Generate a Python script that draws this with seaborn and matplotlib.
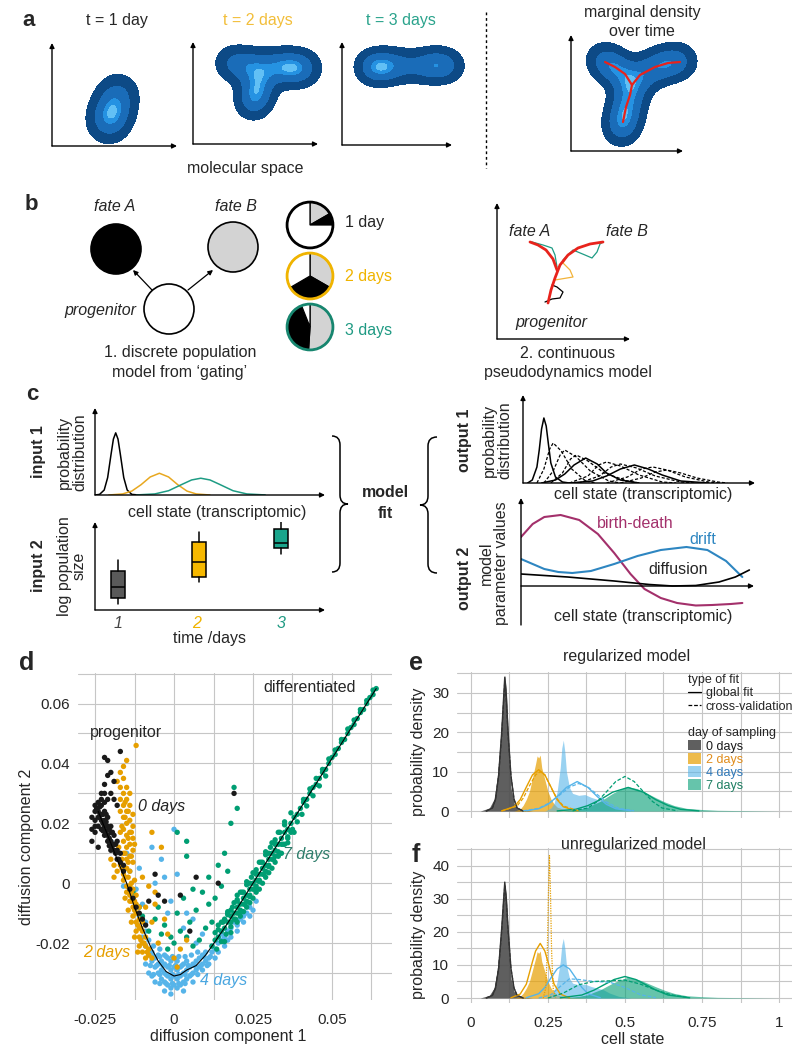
import matplotlib
matplotlib.use("Agg")
import matplotlib.pyplot as plt
import numpy as np
import seaborn as sns
import pandas as pd
from matplotlib.patches import Circle, Patch, PathPatch
from matplotlib.path import Path
from matplotlib.lines import Line2D

W, H = 801, 1050

# colours
C_BLACK = "#1a1a1a"
C_ORANGE = "#E69F00"
C_BLUE = "#56B4E9"
C_GREEN = "#009E73"
C_TEAL = "#1e9c84"
C_MAGENTA = "#a3306b"
C_DRIFT = "#2e86c1"
DENSITY_BLUES = ["#0d4a86", "#1a6cb8", "#2592e2", "#62c0f5"]
BLOB_LEVELS = [0.14, 0.45, 0.82, 0.95, 1.01]   # fractions of the peak density

# ---------------- panel a: anchor points of the schematic densities (local pixel units)
a1_x = [56, 59, 62, 65, 67]
a1_y = [22, 31, 40, 49, 55]
a1_w = [0.9, 1.0, 0.65, 0.55, 0.5]

a2_x = [38, 50, 62, 76, 88, 100, 112, 66, 63, 60]
a2_y = [81, 79, 77, 77, 77, 76, 76, 62, 50, 41]
a2_w = [0.6, 0.6, 0.65, 0.6, 0.7, 1.0, 0.7, 0.75, 0.8, 0.7]

a3_x = [28, 38, 48, 60, 70, 84, 96, 108]
a3_y = [78, 78, 79, 79, 79, 79, 80, 79]
a3_w = [0.75, 1.0, 0.75, 0.45, 0.45, 0.7, 0.95, 0.6]

a4_x = [32, 42, 52, 61, 58, 55, 52, 50, 72, 85, 98, 110]
a4_y = [91, 85, 77, 66, 54, 42, 30, 21, 77, 84, 88, 90]
a4_w = [0.7, 0.75, 0.7, 0.75, 0.7, 0.8, 0.8, 0.6, 0.7, 0.75, 0.8, 0.65]

a4_stem_x = [52, 55, 59, 61, 69, 84, 97, 109]
a4_stem_y = [29, 44, 56, 66, 76, 84, 88, 89]
a4_left_x = [61, 54, 44, 34]
a4_left_y = [66, 77, 84, 89]

# ---------------- panel b
fate_x = [116, 233, 169]
fate_y = [249, 247, 309]
fate_fill = ["black", "#d3d3d3", "white"]
pie_y = [225, 276, 327]
pie_1day = [0.167, 0.083, 0.75]      # grey, black, white (clockwise from top)
pie_2days = [0.333, 0.333, 0.334]
pie_3days = [0.51, 0.43, 0.06]
pie_edges = ["black", "#f0b400", "#17866f"]

# pseudodynamics sketch (local units)
b_right_x = [51, 54, 58, 63, 71, 81, 93, 106]
b_right_y = [36, 49, 61, 74, 84, 91, 95, 97]
b_left_x = [60, 56, 49, 41, 33]
b_left_y = [69, 80, 89, 94, 97]
b_black_x = [48, 55, 63, 66, 60, 55]
b_black_y = [37, 40, 41, 47, 52, 54]
b_orange_x = [58, 70, 76, 73, 66, 71]
b_orange_y = [59, 61, 62, 69, 76, 84]
b_teal1_x = [35, 46, 55, 58, 60]
b_teal1_y = [97, 94, 91, 84, 72]
b_teal2_x = [66, 76, 88, 95, 100, 103, 106]
b_teal2_y = [79, 89, 84, 81, 87, 95, 97]

# ---------------- panel c
in1_black_x = [0.0, 0.02, 0.04, 0.055, 0.07, 0.08, 0.09, 0.10, 0.11, 0.125, 0.14, 0.16, 0.19]
in1_black_y = [0.0, 0.01, 0.08, 0.28, 0.66, 0.9, 1.0, 0.9, 0.66, 0.28, 0.08, 0.01, 0.0]
in1_orange_x = [0.06, 0.12, 0.16, 0.2, 0.24, 0.28, 0.32, 0.36, 0.4, 0.44, 0.5]
in1_orange_y = [0.0, 0.017, 0.063, 0.165, 0.29, 0.35, 0.29, 0.165, 0.063, 0.017, 0.0]
in1_teal_x = [0.18, 0.26, 0.32, 0.38, 0.42, 0.46, 0.5, 0.54, 0.6, 0.66, 0.74]
in1_teal_y = [0.001, 0.017, 0.069, 0.174, 0.242, 0.27, 0.242, 0.174, 0.069, 0.017, 0.001]

days_c = [1, 2, 3]
box_q1 = [1.2, 3.3, 6.2]
box_med = [2.3, 4.8, 6.7]
box_q3 = [3.9, 6.8, 8.1]
box_lo = [0.6, 2.8, 5.6]
box_hi = [5.0, 7.8, 9.1]
box_colors = ["#5a5a5a", "#f6b800", "#1aa58c"]
day_tick_colors = ["#444444", "#f0b400", "#1f9a83"]

out1_solid = [
    ([0.02, 0.04, 0.06, 0.07, 0.08, 0.09, 0.1, 0.11, 0.12, 0.14, 0.17, 0.2],
     [0, 3, 16, 33, 54, 65, 57, 38, 20, 6, 1, 0]),
    ([0.08, 0.14, 0.18, 0.22, 0.27, 0.32, 0.36, 0.42, 0.5],
     [0, 3, 9, 18, 25, 19, 10, 3, 0]),
    ([0.2, 0.3, 0.36, 0.42, 0.48, 0.54, 0.6, 0.68, 0.8],
     [0, 2, 7, 14, 18, 14, 8, 2, 0]),
]
out1_dashed = [
    ([0.06, 0.09, 0.115, 0.13, 0.165, 0.21, 0.27, 0.31], [0, 14, 34, 40, 32, 14, 2, 0]),
    ([0.09, 0.13, 0.16, 0.18, 0.23, 0.29, 0.37, 0.42], [0, 12, 28, 33, 26, 12, 2, 0]),
    ([0.12, 0.17, 0.205, 0.23, 0.28, 0.35, 0.45, 0.5], [0, 10, 24, 28, 22, 10, 2, 0]),
    ([0.2, 0.28, 0.325, 0.36, 0.42, 0.5, 0.6, 0.66], [0, 7, 18, 21, 17, 8, 1, 0]),
    ([0.24, 0.33, 0.38, 0.42, 0.49, 0.57, 0.68, 0.74], [0, 7, 16, 19, 15, 7, 1, 0]),
    ([0.36, 0.45, 0.51, 0.56, 0.62, 0.7, 0.8, 0.85], [0, 6, 14, 16, 13, 6, 1, 0]),
    ([0.42, 0.51, 0.57, 0.62, 0.68, 0.75, 0.84, 0.88], [0, 5, 11, 13, 10, 5, 1, 0]),
]

bd_x = [0, 0.05, 0.1, 0.17, 0.25, 0.33, 0.4, 0.47, 0.53, 0.6, 0.67, 0.75, 0.82, 0.9, 0.95]
bd_y = [4.9, 6.2, 6.9, 7.1, 6.6, 5.2, 3.3, 1.2, -0.3, -1.2, -1.7, -1.95, -1.9, -1.8, -1.7]
drift_x = [0, 0.05, 0.1, 0.16, 0.22, 0.3, 0.4, 0.5, 0.6, 0.71, 0.8, 0.88, 0.95]
drift_y = [2.7, 2.2, 1.7, 1.4, 1.3, 1.5, 2.2, 3.0, 3.6, 3.9, 3.6, 2.5, 0.9]
diff_x = [0, 0.2, 0.4, 0.55, 0.65, 0.75, 0.85, 0.92, 0.98]
diff_y = [1.2, 0.9, 0.5, 0.15, 0.0, 0.05, 0.4, 0.9, 1.6]

# ---------------- panel d (diffusion components, units of 1e-3)
d_day0 = [(-25, 26), (-25, 24), (-25, 21), (-25, 19), (-24, 27), (-24, 24), (-24, 22), (-24, 19),
          (-23, 26), (-23, 23), (-23, 21), (-23, 18), (-22, 24), (-22, 21), (-22, 19), (-22, 16),
          (-21, 22), (-21, 19), (-21, 16), (-21, 14), (-20, 19), (-20, 17), (-20, 14), (-20, 11),
          (-19, 16), (-19, 13), (-19, 11), (-18, 14), (-18, 11), (-18, 8), (-17, 10), (-17, 7),
          (-16, 6), (-16, 4), (-24.5, 25), (-23.5, 22.5), (-22.5, 20), (-21.5, 17.5), (-20.5, 15),
          (-19.5, 12.5), (-18.5, 10), (-17.5, 8), (-22.5, 23), (-21.5, 20.5), (-20.5, 18),
          (-23.5, 25.5), (-21.5, 23), (-19.5, 17), (-18.5, 13), (-22.5, 17.5), (-20.5, 12.5),
          (-26, 22), (-26, 18), (-25, 17), (-26, 14), (-24, 12), (-23, 28), (-22, 27),
          (-22, 42), (-21, 41), (-17, 44), (-21, 36), (-20, 37), (-22, 33), (-19, 34), (-20, 30),
          (-22, 30), (-21, 28), (-19, 28), (-23, 30), (-18, 26), (19, 30), (-6, 3), (7, 2),
          (2, -4), (-5, -4), (-3, -6), (14, 0), (-12, -8), (-13, -5), (-11, -10), (-14, -2),
          (-9, -14), (-10, -12), (5, -16), (-8, -6)]
d_day2 = [(-12, 46), (-15, 41), (-16, 39), (-17, 37), (-16, 35), (-18, 34), (-17, 32), (-15, 32),
          (-16, 30), (-14, 30), (-17, 28), (-15, 28), (-16, 26), (-14, 26), (-17, 24), (-15, 24),
          (-13, 23), (-16, 22), (-14, 21), (-15, 20), (-13, 19), (-16, 18), (-14, 17), (-15, 16),
          (-13, 15), (-17, 17), (-16, 14), (-14, 13), (-15, 12), (-13, 11), (-16, 10), (-14, 9),
          (-15, 8), (-13, 7), (-17, 6), (-15, 5), (-16, 3), (-14, 4), (-18, 4), (-19, 6), (-20, 8),
          (-19, 2), (-16, 1), (-15, -1), (-14, -1), (-15, -3), (-13, -2), (-14, -4), (-13, -5),
          (-12, -4), (-14, -6), (-13, -8), (-12, -7), (-11, -8), (-12, -10), (-13, -11), (-11, -12),
          (-12, -13), (-10, -13), (-11, -15), (-12, -16), (-10, -16), (-11, -18), (-9, -18),
          (-10, -20), (-11, -21), (-9, -21), (-8, -22), (-10, -23), (-8, -24), (-9, -25), (-7, -25),
          (-14.5, 2), (-13.5, -3), (-12.5, -9), (-11.5, -14), (-10.5, -19), (-15.5, 10), (-14.5, 15),
          (-15.5, 22), (-13.5, 0), (-16.5, 5), (-15.5, 2), (-14.5, -1), (-13.5, -6), (-12.5, -6),
          (-11.5, -10), (-10.5, -15), (-9.5, -20), (-8.5, -23), (-17.5, 12), (-16.5, 19),
          (-15.5, 27), (-14.5, 24), (-13.5, 17), (-12.5, 13), (-14.5, 7), (-13.5, 9), (-12.5, 1),
          (-16.5, 8), (-15.5, -5), (-14.5, -9), (-13.5, -13), (-12.5, -18), (-11.5, -23),
          (-7, 17), (-4, 12), (-8, -1), (-6, -7), (-3, -12), (-5, -20),
          (0, -25), (2, -22), (-2, -17), (-10, 2), (-6, -3), (4, -19), (-9, -8), (-7, -13), (1, -28)]
d_day4 = [(-8, -24), (-7, -26), (-7, -23), (-6, -28), (-6, -25), (-5, -30), (-5, -27), (-5, -24),
          (-4, -32), (-4, -29), (-4, -26), (-3, -33), (-3, -30), (-3, -27), (-3, -24), (-2, -34),
          (-2, -31), (-2, -28), (-2, -25), (-1, -35), (-1, -32), (-1, -29), (-1, -26), (0, -34),
          (0, -31), (0, -28), (0, -25), (1, -35), (1, -32), (1, -29), (1, -26), (2, -34), (2, -31),
          (2, -28), (3, -33), (3, -30), (3, -27), (4, -32), (4, -29), (4, -26), (5, -31), (5, -28),
          (6, -30), (6, -27), (7, -29), (7, -26), (8, -28), (8, -25), (9, -27), (9, -24), (10, -26),
          (10, -23), (11, -25), (12, -23), (12, -21), (13, -22), (14, -20), (15, -19), (15, -17),
          (16, -18), (17, -16), (18, -15), (19, -13), (20, -14), (21, -12), (22, -11), (23, -10),
          (24, -8), (25, -9), (26, -6), (-9, -21), (-8, -19), (-10, -18),
          (11, -27), (13, -25), (14, -23), (16, -21), (17, -19), (18, -18), (20, -16), (22, -13),
          (24, -11), (9, -29), (6, -33), (3, -36), (-3, -36), (-6, -33), (-8, -30), (-9, -27),
          (-7, -31), (-1, -37), (-6.5, -21), (-4.5, -22), (5.5, -24), (7.5, -23),
          (-4.5, -33.5), (-2.5, -33.5), (-0.5, -33.5), (1.5, -33.5), (3.5, -33.5),
          (-6.5, -30.5), (-4.5, -30.5), (-2.5, -30.5), (-0.5, -30.5), (1.5, -30.5), (3.5, -30.5),
          (5.5, -30.5), (7.5, -30.5), (-7.5, -27.5), (-5.5, -27.5), (-3.5, -27.5), (-1.5, -27.5),
          (0.5, -27.5), (2.5, -27.5), (4.5, -27.5), (6.5, -27.5), (8.5, -27.5), (10.5, -27.5),
          (-6.5, -24.5), (-4.5, -24.5), (-2.5, -24.5), (-0.5, -24.5), (1.5, -24.5), (3.5, -24.5),
          (9.5, -24.5), (11.5, -24.5),
          (-15, 10), (-14, 4), (-12, -2), (-10, -7), (-7, 12), (-4, 8), (-3, 2), (-1, -6), (1, 3),
          (4, -10), (-6, 0), (-2, -10), (7, -20), (9, -17), (-9, -13), (-11, 5), (-16, -1),
          (-13, -6), (-20, 14), (0, 18), (3, -15), (6, -12), (-11, -11), (-9, -16)]
d_day7 = [(12, -21), (13, -19), (14, -18), (15, -16), (16, -15), (17, -13), (18, -11), (18, -13),
          (19, -10), (19, -12), (20, -8), (20, -10), (21, -7), (21, -9), (22, -5), (22, -7), (23, -4),
          (23, -6), (24, -2), (24, -4), (25, 0), (25, -2), (26, 1), (26, -1), (27, 3), (27, 1),
          (28, 5), (28, 3), (29, 6), (29, 4), (30, 8), (30, 6), (31, 10), (31, 8), (32, 11), (32, 9),
          (33, 13), (34, 15), (34, 13), (35, 17), (36, 18), (37, 20), (38, 22), (39, 23), (40, 25),
          (41, 27), (42, 28), (43, 30), (44, 32), (45, 33), (46, 35), (47, 37), (48, 38), (49, 40),
          (50, 42), (51, 43), (52, 45), (53, 47), (54, 48), (55, 50), (56, 52), (57, 53), (58, 55),
          (59, 57), (60, 58), (61, 60), (62, 62), (63, 63), (64, 65), (14, -14), (16, -12), (18, -9),
          (20, -6), (22, -3), (24, 0), (26, 3), (28, 7), (30, 10), (32, 13), (21, -11), (23, -8),
          (25, -5), (27, -2), (29, 2), (31, 5), (33, 9), (35, 13), (36, 15), (37, 17), (20, -4),
          (17, -10), (13.5, -22), (15, -19.5), (16.5, -17), (18, -14.5), (19.5, -12), (21, -9.5),
          (22.5, -7), (24, -4.5), (25.5, -2), (27, 0.5), (28.5, 3), (30, 5.5), (31.5, 8), (33, 10.5),
          (34.5, 13), (36, 15.5), (37.5, 18), (39, 20.5), (40.5, 23), (42, 25.8), (44, 29.2),
          (46, 32.5), (48, 35.8), (14, -15.5), (15.5, -13), (17, -10.5), (18.5, -8), (20, -5.5),
          (21.5, -3), (23, -0.5), (24.5, 2), (26, 4.5), (27.5, 7), (29, 9.5), (30.5, 12), (32, 14.5),
          (33.5, 17), (35, 19.5), (41, 28), (43, 31.5), (45, 35), (47, 38), (49, 41.5), (51, 44.5),
          (53, 48), (55, 51.5), (57, 54.5), (59, 58), (61, 61), (63, 64.5),
          (13, -16.5), (15, -13), (17, -9.5), (19, -6.5), (21, -3), (23, 0.5), (25, 3.5), (27, 7),
          (29, 10.5), (31, 13.5), (33, 17), (35, 20.5), (37, 23.5), (16, -19.5), (18, -16.5),
          (20, -13), (22, -9.5), (24, -6.5), (26, -3), (28, 0), (30, 3.5), (32, 7), (34, 10),
          (36, 13.5), (38, 17),
          (-13, -3), (-11, -8), (-10, -11), (-6, -12), (-4, -17), (-2, -22), (0, -20),
          (2, -16), (4, -18), (6, -21), (8, -19), (10, -15), (12, -13), (-5, -8), (-3, -14), (1, -10),
          (3, -5), (5, -13), (7, -9), (9, -3), (11, -7), (13, -5), (15, -1), (4, 14), (4, 9), (1, 17),
          (14, 6), (16, 10), (18, 20), (20, 25), (19, 32), (17, 4), (11, 2), (-8, -16), (-1, -18),
          (6, -2)]
traj_x = [-24, -21, -18, -15, -12.5, -10, -7.5, -5, -2.5, 0, 2, 4, 7, 10, 13, 17, 21, 25, 35, 45, 55, 64]
traj_y = [24, 16, 8, 0, -8, -15, -21, -26, -29.5, -31, -30.5, -29, -27.5, -24, -19.5, -13.3, -6.7, 0,
          16.7, 33.3, 50, 65]

# ---------------- panels e / f (cell state densities)
obs_days = ["0 days", "2 days", "4 days", "7 days"]
obs_colors = ["#4d4d4d", C_ORANGE, C_BLUE, C_GREEN]
obs_alpha = [0.9, 0.7, 0.6, 0.6]
obs_x = [
    [0.03, 0.06, 0.075, 0.085, 0.095, 0.10, 0.105, 0.11, 0.115, 0.12, 0.125, 0.13, 0.14, 0.15, 0.17, 0.20],
    [0.14, 0.16, 0.17, 0.18, 0.19, 0.20, 0.21, 0.215, 0.22, 0.225, 0.23, 0.24, 0.25, 0.26, 0.27, 0.28, 0.30, 0.33, 0.38],
    [0.24, 0.26, 0.27, 0.28, 0.29, 0.295, 0.30, 0.305, 0.31, 0.32, 0.33, 0.35, 0.37, 0.39, 0.41, 0.43, 0.45, 0.48, 0.52],
    [0.30, 0.35, 0.38, 0.40, 0.42, 0.44, 0.46, 0.48, 0.50, 0.51, 0.52, 0.54, 0.56, 0.58, 0.60, 0.63, 0.66, 0.70, 0.75, 0.80, 0.9, 1.0],
]
obs_y = [
    [0, 0.8, 3, 8, 17, 24, 30, 34.5, 31, 22, 12, 6, 2, 0.8, 0.3, 0],
    [0, 0.5, 1.5, 3, 5, 8.5, 12, 14, 13.5, 14.2, 11, 8, 5, 3, 1.8, 1, 0.5, 0.2, 0],
    [0, 0.8, 2, 5, 11, 16, 18, 15, 10, 6, 4.5, 4, 4.2, 3.5, 3, 2.5, 1.5, 0.5, 0],
    [0, 0.5, 1, 1.8, 2.5, 3.5, 4.5, 5.3, 6, 6.3, 6, 5.7, 5, 4.2, 3.4, 2.3, 1.4, 0.7, 0.4, 0.2, 0.1, 0],
]
line_colors = ["#333333", C_ORANGE, C_BLUE, C_GREEN]
fit0_x = [0.05, 0.07, 0.08, 0.09, 0.10, 0.105, 0.11, 0.115, 0.12, 0.13, 0.14, 0.15, 0.17]
reg_fit = [
    (fit0_x, [0, 0.8, 3, 9, 20, 27, 34, 29, 21, 9, 3, 0.8, 0]),
    ([0.1, 0.14, 0.16, 0.18, 0.2, 0.22, 0.24, 0.26, 0.28, 0.3, 0.34], [0.07, 1.1, 2.9, 6.1, 9.2, 10.5, 9.2, 6.1, 2.9, 1.1, 0.07]),
    ([0.18, 0.22, 0.25, 0.28, 0.31, 0.345, 0.38, 0.41, 0.44, 0.47, 0.52], [0.09, 0.6, 1.7, 3.7, 6.0, 7.5, 6.0, 3.7, 1.7, 0.6, 0.1]),
    ([0.28, 0.34, 0.38, 0.42, 0.46, 0.51, 0.56, 0.6, 0.64, 0.68, 0.74], [0.05, 0.46, 1.4, 2.9, 4.8, 6.0, 4.8, 2.9, 1.4, 0.46, 0.05]),
]
reg_cv = [
    (fit0_x, [0, 0.8, 3, 9, 19, 26, 33, 28, 20, 9, 3, 0.8, 0]),
    ([0.1, 0.15, 0.17, 0.19, 0.21, 0.225, 0.24, 0.26, 0.28, 0.3, 0.35], [0.03, 1.3, 3.3, 6.4, 9.2, 10, 9.2, 6.0, 3.1, 1.3, 0.05]),
    ([0.17, 0.22, 0.26, 0.29, 0.32, 0.35, 0.38, 0.41, 0.44, 0.48, 0.53], [0.08, 0.7, 2.3, 4.2, 6.1, 7.0, 6.1, 4.2, 2.3, 0.7, 0.08]),
    ([0.33, 0.38, 0.41, 0.44, 0.47, 0.5, 0.53, 0.56, 0.59, 0.62, 0.67], [0.07, 0.8, 2.4, 4.9, 7.5, 8.8, 7.5, 4.9, 2.4, 0.8, 0.07]),
]
unreg_fit = [
    (fit0_x, [0, 0.8, 3, 9, 21, 28, 35, 30, 22, 9, 3, 0.8, 0]),
    ([0.13, 0.16, 0.18, 0.2, 0.21, 0.225, 0.24, 0.25, 0.27, 0.29, 0.32], [0.07, 1.2, 4.2, 11.0, 14.2, 16.5, 14.2, 11.0, 4.2, 1.2, 0.05]),
    ([0.18, 0.22, 0.24, 0.26, 0.28, 0.30, 0.32, 0.34, 0.36, 0.38, 0.42], [0.1, 1.3, 3.2, 6.1, 8.8, 10, 8.8, 6.1, 3.2, 1.3, 0.1]),
    ([0.29, 0.36, 0.4, 0.43, 0.465, 0.5, 0.535, 0.57, 0.6, 0.64, 0.71], [0.07, 0.9, 2.4, 3.9, 5.6, 6.5, 5.6, 3.9, 2.4, 0.9, 0.07]),
]
unreg_cv = [
    (fit0_x, [0, 0.8, 3, 9, 20, 27, 34, 29, 21, 9, 3, 0.8, 0]),
    ([0.235, 0.243, 0.248, 0.252, 0.255, 0.258, 0.262, 0.267, 0.275], [0, 3, 14, 33, 43, 33, 14, 3, 0]),
    ([0.22, 0.26, 0.29, 0.32, 0.35, 0.4, 0.45, 0.5, 0.55, 0.6], [0, 1, 3.5, 5.8, 5.6, 5.0, 4.8, 3.2, 1, 0.1]),
    ([0.25, 0.3, 0.35, 0.4, 0.45, 0.5, 0.55, 0.6, 0.65, 0.7], [0, 1.5, 4, 5, 5.2, 5.4, 4.2, 2.4, 1, 0.2]),
]
legend_text_colors = ["#1a1a1a", "#e08c1a", "#2f78b8", "#1d7f62"]

# ---------------- drawing
sns.set_style("white")
plt.rcParams["font.family"] = ["Liberation Sans", "DejaVu Sans"]
plt.rcParams["axes.unicode_minus"] = False
FS = 11.5

fig = plt.figure(figsize=(W / 100, H / 100), dpi=100)


def rect(x0, y0, x1, y1):
    return [x0 / W, 1 - y1 / H, (x1 - x0) / W, (y1 - y0) / H]


def ftext(x, y, s, **kw):
    kw.setdefault("fontsize", FS)
    kw.setdefault("ha", "center")
    kw.setdefault("va", "center")
    fig.text(x / W, 1 - y / H, s, **kw)


def arrows(ax, xend=1.0, yend=1.0, y0=0.0, y0_coords="axes fraction", ystart=0.0, lw=1.0):
    kw = dict(arrowstyle="-|>", mutation_scale=7, color="black", lw=lw, shrinkA=0, shrinkB=0)
    ax.annotate("", xy=(xend, y0), xytext=(0, y0), xycoords=("axes fraction", y0_coords),
                arrowprops=kw, annotation_clip=False)
    ax.annotate("", xy=(0, yend), xytext=(0, ystart), xycoords="axes fraction",
                arrowprops=kw, annotation_clip=False)


# overlay in pixel units for braces and separators
ov = fig.add_axes([0, 0, 1, 1])
ov.set_xlim(0, W)
ov.set_ylim(H, 0)
ov.axis("off")
ov.plot([486, 486], [12, 168], color="black", lw=1, ls=(0, (2, 2)))


def brace(x0, xm, xt, y0, y1, r=9):
    ym = (y0 + y1) / 2
    verts = [(x0, y0), (xm, y0), (xm, y0 + r), (xm, ym - r), (xm, ym), (xt, ym),
             (xm, ym), (xm, ym + r), (xm, y1 - r), (xm, y1), (x0, y1)]
    codes = [Path.MOVETO, Path.CURVE3, Path.CURVE3, Path.LINETO, Path.CURVE3, Path.CURVE3,
             Path.CURVE3, Path.CURVE3, Path.LINETO, Path.CURVE3, Path.CURVE3]
    ov.add_patch(PathPatch(Path(verts, codes), fill=False, lw=1.1, ec="black"))


brace(332, 340, 348, 436, 572)
brace(437, 428, 420, 437, 573)


# ---- panel a: smoothed anchor points drawn as filled density contours
def density_axes(box, xs, ys, ws, sigma=11.0):
    x0, y0, x1, y1 = box
    w, h = x1 - x0, y1 - y0
    ax = fig.add_axes(rect(*box))
    ax.set_facecolor("none")
    gx, gy = np.meshgrid(np.linspace(-20, w + 30, 300), np.linspace(-20, h + 20, 300))
    dens = np.zeros_like(gx)
    for px, py, pw in zip(xs, ys, ws):
        dens += pw * np.exp(-((gx - px) ** 2 + (gy - py) ** 2) / (2 * sigma ** 2))
    cs = ax.contourf(gx, gy, dens, levels=[f * dens.max() for f in BLOB_LEVELS],
                     colors=DENSITY_BLUES)
    cs.set_clip_on(False)
    ax.set_xlim(0, w)
    ax.set_ylim(0, h)
    ax.axis("off")
    arrows(ax)
    return ax


density_axes((52, 43, 177, 146), a1_x, a1_y, a1_w, sigma=12.5)
density_axes((193, 42, 318, 144), a2_x, a2_y, a2_w)
density_axes((342, 42, 452, 145), a3_x, a3_y, a3_w, sigma=10.5)
ax4 = density_axes((571, 35, 683, 151), a4_x, a4_y, a4_w)
sns.lineplot(x=a4_stem_x, y=a4_stem_y, sort=False, estimator=None, color="#e8231c", lw=1.6, ax=ax4)
sns.lineplot(x=a4_left_x, y=a4_left_y, sort=False, estimator=None, color="#e8231c", lw=1.6, ax=ax4)
ax4.axis("off")

ftext(29, 20, "a", fontsize=16, fontweight="bold")
ftext(117, 20, "t = 1 day")
ftext(258, 20, "t = 2 days", color="#f2be3a")
ftext(401, 20, "t = 3 days", color="#2aa38c")
ftext(642, 12, "marginal density")
ftext(642, 31, "over time")
ftext(245, 168, "molecular space")

# ---- panel b
axb = fig.add_axes(rect(40, 190, 300, 345))
axb.set_xlim(40, 300)
axb.set_ylim(345, 190)
axb.axis("off")
for fx, fy, fc in zip(fate_x, fate_y, fate_fill):
    axb.add_patch(Circle((fx, fy), 25, fc=fc, ec="black", lw=1.2))
akw = dict(arrowstyle="-|>", mutation_scale=7, color="black", lw=0.9, shrinkA=0, shrinkB=0)
axb.annotate("", xy=(133, 270), xytext=(152, 290), arrowprops=akw)
axb.annotate("", xy=(213, 270), xytext=(188, 290), arrowprops=akw)

for py, fr, ec in zip(pie_y, [pie_1day, pie_2days, pie_3days], pie_edges):
    axp = fig.add_axes(rect(285, py - 25, 335, py + 25))
    axp.pie(fr, colors=["#d3d3d3", "black", "white"], startangle=90, counterclock=False,
            wedgeprops=dict(edgecolor="black", linewidth=0.9))
    axp.add_patch(Circle((0, 0), 1, fill=False, ec=ec, lw=2))
    axp.set_xlim(-1.09, 1.09)
    axp.set_ylim(-1.09, 1.09)

axr = fig.add_axes(rect(497, 203, 630, 339))
axr.set_facecolor("none")
axr.set_xlim(0, 133)
axr.set_ylim(0, 136)
axr.axis("off")
arrows(axr)
for xs, ys, col, lw in [(b_black_x, b_black_y, "black", 0.9), (b_orange_x, b_orange_y, "#f2b33a", 0.9),
                        (b_teal1_x, b_teal1_y, C_TEAL, 0.9), (b_teal2_x, b_teal2_y, C_TEAL, 0.9),
                        (b_right_x, b_right_y, "#e8231c", 2.0), (b_left_x, b_left_y, "#e8231c", 2.0)]:
    axr.plot(xs, ys, color=col, lw=lw, solid_capstyle="round")

ftext(31, 205, "b", fontsize=16, fontweight="bold")
ftext(115, 206, "fate A", style="italic")
ftext(236, 206, "fate B", style="italic")
ftext(100, 310, "progenitor", style="italic")
ftext(345, 223, "1 day", ha="left")
ftext(345, 276, "2 days", ha="left", color="#f0b400")
ftext(345, 330, "3 days", ha="left", color="#1f9a83")
ftext(180, 353, "1. discrete population")
ftext(180, 373, "model from \u2018gating\u2019")
ftext(530, 231, "fate A", style="italic")
ftext(627, 231, "fate B", style="italic")
ftext(551, 322, "progenitor", style="italic")
ftext(568, 353, "2. continuous")
ftext(568, 373, "pseudodynamics model")

# ---- panel c
ax_in1 = fig.add_axes(rect(95, 408, 325, 495))
ax_in1.set_facecolor("none")
for xs, ys, col in [(in1_black_x, in1_black_y, "black"), (in1_orange_x, in1_orange_y, "#e8a820"),
                    (in1_teal_x, in1_teal_y, C_TEAL)]:
    sns.lineplot(x=xs, y=ys, sort=False, estimator=None, color=col, lw=1.1, ax=ax_in1)
ax_in1.set_xlim(0, 1)
ax_in1.set_ylim(0, 1.4)
ax_in1.axis("off")
arrows(ax_in1)

ax_in2 = fig.add_axes(rect(95, 522, 325, 610))
ax_in2.set_facecolor("none")
stats = [dict(med=m, q1=a, q3=b, whislo=lo, whishi=hi) for m, a, b, lo, hi in
         zip(box_med, box_q1, box_q3, box_lo, box_hi)]
bp = ax_in2.bxp(stats, positions=days_c, widths=0.17, showfliers=False, patch_artist=True,
                medianprops=dict(color="black", lw=1.1), whiskerprops=dict(lw=1.1),
                capprops=dict(lw=0), boxprops=dict(lw=1.1))
for patch, col in zip(bp["boxes"], box_colors):
    patch.set_facecolor(col)
ax_in2.set_xlim(0.72, 3.54)
ax_in2.set_ylim(0, 8.8)
ax_in2.axis("off")
arrows(ax_in2)

ax_o1 = fig.add_axes(rect(523, 395, 755, 483))
ax_o1.set_facecolor("none")
for xs, ys in out1_dashed:
    ax_o1.plot(xs, ys, color="black", lw=0.9, ls=(0, (2.5, 1.5)))
for xs, ys in out1_solid:
    sns.lineplot(x=xs, y=ys, sort=False, estimator=None, color="black", lw=1.1, ax=ax_o1)
ax_o1.set_xlim(0, 1)
ax_o1.set_ylim(0, 88)
ax_o1.axis("off")
arrows(ax_o1)

ax_o2 = fig.add_axes(rect(521, 498, 754, 625))
ax_o2.set_facecolor("none")
sns.lineplot(x=bd_x, y=bd_y, sort=False, estimator=None, color=C_MAGENTA, lw=1.5, ax=ax_o2)
sns.lineplot(x=drift_x, y=drift_y, sort=False, estimator=None, color=C_DRIFT, lw=1.5, ax=ax_o2)
sns.lineplot(x=diff_x, y=diff_y, sort=False, estimator=None, color="black", lw=1.2, ax=ax_o2)
ax_o2.set_xlim(0, 1)
ax_o2.set_ylim(-3.9, 8.8)
ax_o2.axis("off")
arrows(ax_o2, y0=0.0, y0_coords="data")

ftext(32, 395, "c", fontsize=16, fontweight="bold")
ftext(39, 452, "input 1", rotation=90, fontweight="bold")
ftext(72, 452, "probability\ndistribution", rotation=90, linespacing=1.0)
ftext(217, 512, "cell state (transcriptomic)")
ftext(39, 566, "input 2", rotation=90, fontweight="bold")
ftext(72, 566, "log population\nsize", rotation=90, linespacing=1.0)
for d, col in zip(days_c, day_tick_colors):
    ftext([118, 197, 281][d - 1], 623, str(d), color=col, style="italic")
ftext(210, 638, "time /days")
ftext(385, 493, "model", fontweight="bold")
ftext(385, 513, "fit", fontweight="bold")
ftext(465, 440, "output 1", rotation=90, fontweight="bold")
ftext(497, 440, "probability\ndistribution", rotation=90, linespacing=1.0)
ftext(643, 494, "cell state (transcriptomic)")
ftext(465, 578, "output 2", rotation=90, fontweight="bold")
ftext(494, 563, "model\nparameter values", rotation=90, linespacing=1.0)
ftext(635, 523, "birth-death", color=C_MAGENTA)
ftext(703, 539, "drift", color=C_DRIFT)
ftext(678, 569, "diffusion")
ftext(643, 617, "cell state (transcriptomic)")


# ---- panel d
def gg_axes(ax, xmaj, xmin, ymaj, ymin):
    ax.set_xticks(xmaj)
    ax.set_xticks(xmin, minor=True)
    ax.set_yticks(ymaj)
    ax.set_yticks(ymin, minor=True)
    ax.grid(True, which="both", color="#c6c6c6", lw=0.8)
    ax.set_axisbelow(True)
    ax.tick_params(which="minor", length=0)
    ax.tick_params(which="major", length=2.5, width=0.8, color="#444444", labelsize=11, pad=3)
    ax.tick_params(axis="x", which="major", pad=7)
    for s in ax.spines.values():
        s.set_visible(False)
    ax.set_xlabel("")
    ax.set_ylabel("")


frames = []
for name, pts in [("4 days", d_day4), ("7 days", d_day7), ("2 days", d_day2), ("0 days", d_day0)]:
    frames.append(pd.DataFrame({"dc1": [p[0] / 1000 for p in pts], "dc2": [p[1] / 1000 for p in pts],
                                "day": name}))
d_df = pd.concat(frames, ignore_index=True)

ax_d = fig.add_axes(rect(78, 673, 392, 1000))
sns.scatterplot(data=d_df, x="dc1", y="dc2", hue="day",
                palette={"0 days": C_BLACK, "2 days": C_ORANGE, "4 days": C_BLUE, "7 days": C_GREEN},
                s=15, linewidth=0, legend=False, ax=ax_d)
sns.lineplot(x=[v / 1000 for v in traj_x], y=[v / 1000 for v in traj_y], sort=False, estimator=None,
             color="black", lw=0.8, ax=ax_d)
ax_d.set_xlim(-0.0304, 0.069)
ax_d.set_ylim(-0.039, 0.0702)
gg_axes(ax_d, [-0.025, 0, 0.025, 0.05], [-0.0125, 0.0125, 0.0375, 0.0625],
        [-0.02, 0, 0.02, 0.04, 0.06], [-0.03, -0.01, 0.01, 0.03, 0.05, 0.07])
ax_d.set_xticklabels(["-0.025", "0", "0.025", "0.05"])
ax_d.set_yticklabels(["-0.02", "0", "0.02", "0.04", "0.06"])

ftext(27, 663, "d", fontsize=18, fontweight="bold")
ftext(27, 847, "diffusion component 2", rotation=90)
ftext(228, 1036, "diffusion component 1")
ftext(310, 687, "differentiated")
ftext(126, 733, "progenitor")
ftext(162, 806, "0 days", style="italic", color="#222222")
ftext(307, 855, "7 days", style="italic", color="#2e7d6b")
ftext(107, 952, "2 days", style="italic", color=C_ORANGE)
ftext(224, 980, "4 days", style="italic", color="#4aa6e0")


# ---- panels e / f
def density_panel(box, fits, cvs, ylim, ymaj, ymin, cv_styles):
    ax = fig.add_axes(rect(*box))
    for xs, ys, col, al in zip(obs_x, obs_y, obs_colors, obs_alpha):
        ax.fill_between(xs, ys, color=col, alpha=al, lw=0)
    for (xs, ys), col in zip(fits, line_colors):
        sns.lineplot(x=xs, y=ys, sort=False, estimator=None, color=col, lw=1.0, ax=ax)
    for (xs, ys), col, ls in zip(cvs, line_colors, cv_styles):
        ax.plot(xs, ys, color=col, lw=0.9, ls=ls)
    ax.set_xlim(-0.045, 1.042)
    ax.set_ylim(*ylim)
    gg_axes(ax, [0, 0.25, 0.5, 0.75, 1], [0.125, 0.375, 0.625, 0.875], ymaj, ymin)
    return ax


dash = (0, (3, 1.5))
ax_e = density_panel((457, 672, 792, 818), reg_fit, reg_cv, (-1.75, 35.3), [0, 10, 20, 30],
                     [5, 15, 25, 35], [dash, dash, dash, dash])
ax_e.tick_params(labelbottom=False)
ax_f = density_panel((457, 848, 792, 1003), unreg_fit, unreg_cv, (-1.5, 45.3), [0, 10, 20, 30, 40],
                     [5, 15, 25, 35, 45], [dash, (0, (1, 1)), dash, dash])
ax_f.set_xticklabels(["0", "0.25", "0.5", "0.75", "1"])

fit_handles = [Line2D([], [], color="black", lw=0.9), Line2D([], [], color="black", lw=0.9, ls=dash)]
leg1 = ax_e.legend(fit_handles, ["global fit", "cross-validation"], title="type of fit",
                   loc="upper left", bbox_to_anchor=(0.69, 0.985), frameon=False, fontsize=9,
                   title_fontsize=9, handlelength=1.0, handletextpad=0.4, labelspacing=0.1,
                   borderpad=0, borderaxespad=0, alignment="left")
ax_e.add_artist(leg1)
day_handles = [Patch(fc=c, alpha=a, ec="none") for c, a in zip(obs_colors, obs_alpha)]
ax_e.legend(day_handles, obs_days, title="day of sampling", loc="upper left",
            bbox_to_anchor=(0.69, 0.62), frameon=False, fontsize=9, title_fontsize=9,
            handlelength=1.0, handleheight=0.9, handletextpad=0.4, labelspacing=0.05, borderpad=0,
            borderaxespad=0, alignment="left", labelcolor=legend_text_colors)

ftext(416, 663, "e", fontsize=18, fontweight="bold")
ftext(416, 855, "f", fontsize=18, fontweight="bold")
ftext(627, 657, "regularized model")
ftext(633, 845, "unregularized model")
ftext(419, 752, "probability density", rotation=90)
ftext(419, 935, "probability density", rotation=90)
ftext(633, 1040, "cell state")

fig.savefig("out.png", dpi=100)
